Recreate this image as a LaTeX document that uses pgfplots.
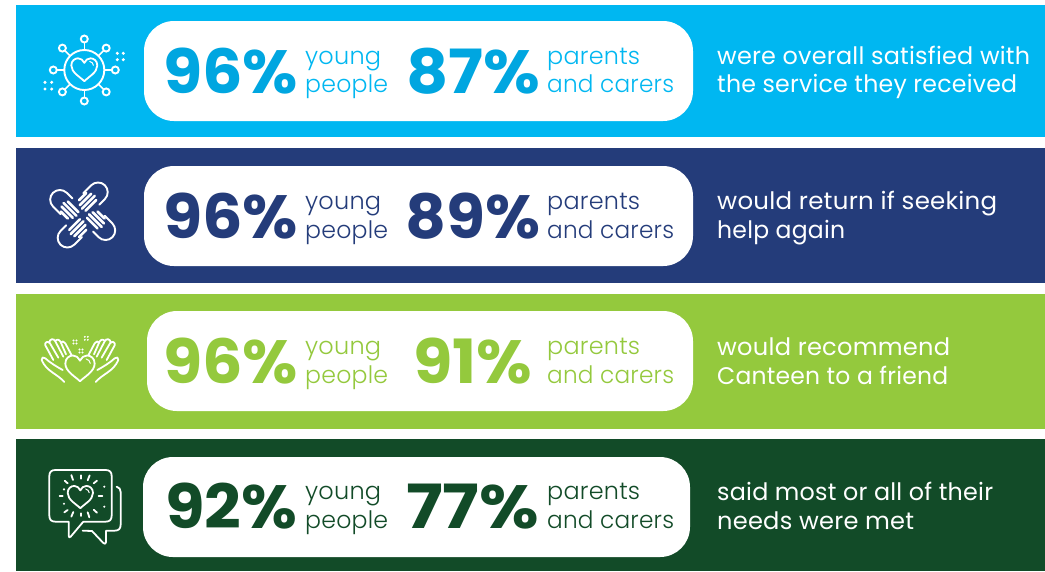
\documentclass[border=0pt]{standalone}
\usepackage{pgfplots}
\pgfplotsset{compat=1.18}
\usetikzlibrary{calc}
\usepackage{fontspec}
\setmainfont{Poppins}
\newfontfamily\pctfont{Poppins}[UprightFont=* Bold]
\newfontfamily\pillfont{Poppins}[UprightFont=* Light,LetterSpace=1.0]
\newfontfamily\bodyfont{Poppins}[LetterSpace=1.0]
\definecolor{skyband}{HTML}{00B7F1}
\definecolor{skytext}{HTML}{00A6E0}
\definecolor{navyband}{HTML}{243C7A}
\definecolor{limeband}{HTML}{94C93D}
\definecolor{forestband}{HTML}{124B28}

% colour, x, baseline y, text, set width
\newcommand\pct[5]{\node[anchor=base west,inner sep=0pt,text=#1] at (axis cs:#2,#3) {\resizebox{#5pt}{\height}{\pctfont\fontsize{61}{61}\selectfont #4}};}
\newcommand\lbl[5]{\node[anchor=base west,inner sep=0pt,text=#1] at (axis cs:#2,#3) {\resizebox{#5pt}{\height}{\pillfont\fontsize{24}{24}\selectfont #4}};}
\newcommand\note[4]{\node[anchor=base west,inner sep=0pt,text=white] at (axis cs:#1,#2) {\resizebox{#4pt}{\height}{\bodyfont\fontsize{24}{24}\selectfont #3}};}

% heart outline, centred on (#1,#2), half width #3
\newcommand\heart[3]{%
  \draw[white,line width=1.8pt,line join=round,shift={(#1,#2)},scale=#3]
    (0,0.86) .. controls (-0.3,0.55) and (-1,0.2) .. (-1,-0.35)
    .. controls (-1,-0.72) and (-0.72,-0.9) .. (-0.48,-0.9)
    .. controls (-0.26,-0.9) and (-0.1,-0.76) .. (0,-0.55)
    .. controls (0.1,-0.76) and (0.26,-0.9) .. (0.48,-0.9)
    .. controls (0.72,-0.9) and (1,-0.72) .. (1,-0.35)
    .. controls (1,0.2) and (0.3,0.55) .. (0,0.86) -- cycle;
  \draw[white,line width=1pt,line cap=round,shift={(#1,#2)},scale=#3]
    (0.42,-0.66) .. controls (0.58,-0.62) and (0.68,-0.52) .. (0.7,-0.36);
}
% one hand of the four-way clasp
\newcommand\clasphand[1]{%
  \begin{scope}[rotate=#1]
    \draw[white,line width=1.9pt,line cap=round]
      (16,-15) -- (27,-15) .. controls (32.3,-15) and (36.7,-10.6) .. (36.7,-5.3)
      .. controls (36.7,0) and (32.3,4.4) .. (27,4.4) -- (19,4.4);
    \foreach \v/\a/\b in {-13/8/18, -9/5/21, -5/4/22, -1/5/20}
      \draw[white,line width=2.6pt,line cap=round] (\a,\v) -- (\b,\v);
  \end{scope}
}

\begin{document}
\begin{tikzpicture}
\begin{axis}[
  at={(0,0)},anchor=north west,
  scale only axis,width=1045pt,height=571pt,
  xmin=0,xmax=1045,ymin=0,ymax=571,y dir=reverse,
  hide axis,clip=false]

% coloured bands
\addplot[fill=skyband,draw=none] coordinates {(16,5) (1045,5) (1045,137) (16,137)} -- cycle;
\addplot[fill=navyband,draw=none] coordinates {(16,148) (1045,148) (1045,283) (16,283)} -- cycle;
\addplot[fill=limeband,draw=none] coordinates {(16,294) (1045,294) (1045,429) (16,429)} -- cycle;
\addplot[fill=forestband,draw=none] coordinates {(16,439) (1045,439) (1045,571) (16,571)} -- cycle;

% white pills
\addplot[fill=white,draw=none,rounded corners=30pt] coordinates {(144,21) (693,21) (693,121) (144,121)} -- cycle;
\addplot[fill=white,draw=none,rounded corners=30pt] coordinates {(144,166) (693,166) (693,266) (144,266)} -- cycle;
\addplot[fill=white,draw=none,rounded corners=30pt] coordinates {(147,311) (693,311) (693,411) (147,411)} -- cycle;
\addplot[fill=white,draw=none,rounded corners=30pt] coordinates {(143,457) (690,457) (690,557) (143,557)} -- cycle;

% satisfaction row
\pct{skytext}{163}{93}{96\%}{135}
\pct{skytext}{406}{93}{87\%}{134}
\lbl{skyband}{305}{64}{young}{76}
\lbl{skyband}{305}{92}{people}{83}
\lbl{skyband}{547}{64}{parents}{93}
\lbl{skyband}{547}{92}{and carers}{127}
\note{717}{64}{were overall satisfied with}{313}
\note{717}{92}{the service they received}{300}

% return row
\pct{navyband}{163}{238}{96\%}{135}
\pct{navyband}{405}{238}{89\%}{135}
\lbl{navyband}{305}{209}{young}{76}
\lbl{navyband}{305}{238}{people}{83}
\lbl{navyband}{547}{209}{parents}{93}
\lbl{navyband}{547}{238}{and carers}{127}
\note{717}{209}{would return if seeking}{280}
\note{717}{238}{help again}{128}

% recommendation row
\pct{limeband}{163}{383}{96\%}{135}
\pct{limeband}{413}{383}{91\%}{119}
\lbl{limeband}{305}{354}{young}{76}
\lbl{limeband}{305}{383}{people}{83}
\lbl{limeband}{547}{354}{parents}{93}
\lbl{limeband}{547}{383}{and carers}{127}
\note{717}{355}{would recommend}{233}
\note{717}{384}{Canteen to a friend}{231}

% needs-met row
\pct{forestband}{165}{528}{92\%}{132}
\pct{forestband}{406}{528}{77\%}{133}
\lbl{forestband}{305}{499}{young}{76}
\lbl{forestband}{305}{528}{people}{83}
\lbl{forestband}{547}{499}{parents}{93}
\lbl{forestband}{547}{528}{and carers}{127}
\note{717}{500}{said most or all of their}{276}
\note{717}{529}{needs were met}{197}
\end{axis}

\begin{scope}[x=1pt,y=-1pt]
\path[use as bounding box] (0,0) rectangle (1045,571);
% network of nodes round a heart
\begin{scope}[shift={(84.3,70)}]
  \draw[white,line width=1.9pt] (0,0) circle[radius=20];
  \foreach \dx/\dy in {0/-31,21.9/-21.9,31/0,21.9/21.9,0/31,-21.9/21.9,-31/0,-21.9/-21.9}{
    \draw[white,line width=1.9pt] (\dx,\dy) circle[radius=3.5];
    \draw[white,line width=1.6pt] ($(0,0)!0.65!(\dx,\dy)$) -- ($(0,0)!0.87!(\dx,\dy)$);
  }
  \heart{0}{0}{13}
\end{scope}
\foreach \px/\py in {117.3/53.3,123.3/53.3,117.3/59.7,123.3/59.7,45/82.3,51.7/82.3,45/89,51.7/89}
  \fill[white] (\px,\py) circle[radius=1.7];

% four clasped hands
\begin{scope}[shift={(82.7,215)}]
  \clasphand{45}\clasphand{-45}\clasphand{-135}\clasphand{135}
\end{scope}

% open hands holding a heart
\begin{scope}[shift={(20,310)},scale=1/3]
  \heart{180}{176}{44}
  \foreach \m in {1,-1}{
  \begin{scope}[shift={(180,0)},xscale=\m,shift={(-180,0)},every path/.style={white,line width=1.8pt,line cap=round,line join=round}]
  \draw (133,216) .. controls (110,190) and (80,185) .. (65,150)
    .. controls (64,142) and (70,140) .. (76,145) .. controls (90,158) and (110,170) .. (128,180);
  \draw (100,150) -- (76,106) .. controls (73,96) and (84,92) .. (90,100) -- (115,143);
  \draw (88,98) .. controls (88,86) and (102,84) .. (106,94) -- (130,140);
  \draw (105,92) .. controls (108,86) and (118,88) .. (122,96) -- (138,133);
  \draw (122,98) .. controls (126,92) and (132,94) .. (136,100) -- (155,136);
  \end{scope}}
  \foreach \cx/\cy in {165/96,199/85,183/123}
    \foreach \dx/\dy in {-4.5/-4.5,4.5/-4.5,-4.5/4.5,4.5/4.5}
      \fill[white] (\cx+\dx,\cy+\dy) circle[radius=3.2];
\end{scope}

% speech bubbles with a glowing heart
\begin{scope}[shift={(20,450)},scale=1/3]
  \draw[white,line width=1.8pt,line join=round]
    (190,215) -- (152,260) .. controls (149,264) and (146,262) .. (146,257) -- (146,215) -- (106,215)
    .. controls (94,215) and (88,209) .. (88,197) -- (88,78)
    .. controls (88,66) and (94,60) .. (106,60) -- (257,60)
    .. controls (269,60) and (275,66) .. (275,78) -- (275,197)
    .. controls (275,209) and (269,215) .. (257,215) -- cycle;
  \draw[white,line width=1.8pt,line cap=round,line join=round]
    (290,110) .. controls (298,112) and (302,118) .. (302,126) -- (302,224)
    .. controls (302,236) and (296,242) .. (284,242) -- (258,242) -- (258,276)
    .. controls (258,282) and (254,283) .. (250,279) -- (216,243) -- (188,242);
  \heart{181}{142}{38}
  \foreach \xa/\ya/\xb/\yb in {134/92/143/100,154/75/159/90,182/76/182/86,209/76/203/91,231/92/221/100,
      119/139/128/139,236/139/247/139,133/187/143/180,154/200/160/186,182/198/182/190,208/202/203/187,231/188/221/179}
    \draw[white,line width=1.8pt,line cap=round] (\xa,\ya) -- (\xb,\yb);
  \foreach \dx/\dy in {132/118,253/110,253/170,132/161}
    \fill[white] (\dx,\dy) circle[radius=3.5];
\end{scope}
\end{scope}
\end{tikzpicture}
\end{document}
